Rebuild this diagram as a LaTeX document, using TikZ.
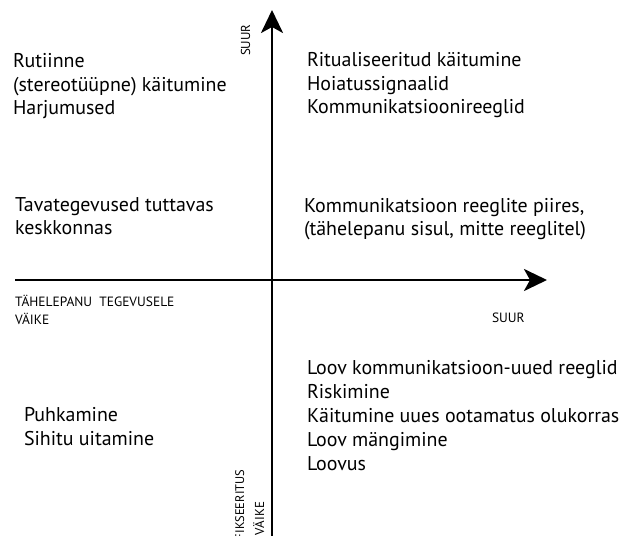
\documentclass[tikz,border=0pt]{standalone}
\usepackage{fontspec}
\setmainfont{PT Sans}
\usetikzlibrary{arrows.meta,positioning}

\begin{document}
\begin{tikzpicture}[x=1bp, y=-1bp,
    every node/.style={inner sep=0pt, outer sep=0pt},
    quadtext/.style={align=left, anchor=base west, font=\fontsize{20}{24}\selectfont},
    axislabel/.style={align=left, anchor=base west, font=\fontsize{13.5}{18}\selectfont},
    axisline/.style={line width=2.8bp, -{Stealth[length=23bp, width=22bp, inset=6bp]}}]
    \useasboundingbox (0,0) rectangle (626,536);

    % axes
    \coordinate (xstart) at (15,280);
    \coordinate (xend) at (547,280);
    \coordinate (ystart) at (272,536);
    \coordinate (yend) at (272,10);
    \draw[axisline] (xstart) -- (xend);
    \draw[axisline] (ystart) -- (yend);

    % quadrants (base = last line)
    \node[quadtext] (routine) at (13,115) {Rutiinne\\(stereotüüpne) käitumine\\Harjumused};
    \node[quadtext] (ritual) at (307,114) {Ritualiseeritud käitumine\\Hoiatussignaalid\\Kommunikatsioonireeglid};
    \node[quadtext] (daily) at (15,235) {Tavategevused tuttavas\\keskkonnas};
    \node[quadtext] (content) at (304,236) {Kommunikatsioon reeglite piires,\\(tähelepanu sisul, mitte reeglitel)};
    \node[quadtext] (rest) at (24,445) {Puhkamine\\Sihitu uitamine};
    \node[quadtext] (creative) at (307,470) {Loov kommunikatsioon-uued reeglid\\Riskimine\\Käitumine uues ootamatus olukorras\\Loov mängimine\\Loovus};

    % axis labels
    \node[axislabel] (xname) at (15,324) {TÄHELEPANU~~TEGEVUSELE\\VÄIKE};
    \node[axislabel] (xhigh) at (492,322) {SUUR};
    \node[axislabel, rotate=90, font=\fontsize{13}{14}\selectfont] (yhigh) at (250,56) {SUUR};
    \node[axislabel, rotate=90, font=\fontsize{12.5}{14}\selectfont] (yname) at (244,540) {FIKSEERITUS};
    \node[axislabel, rotate=90, font=\fontsize{13}{14}\selectfont] (ylow) at (264,535) {VÄIKE};
\end{tikzpicture}
\end{document}
